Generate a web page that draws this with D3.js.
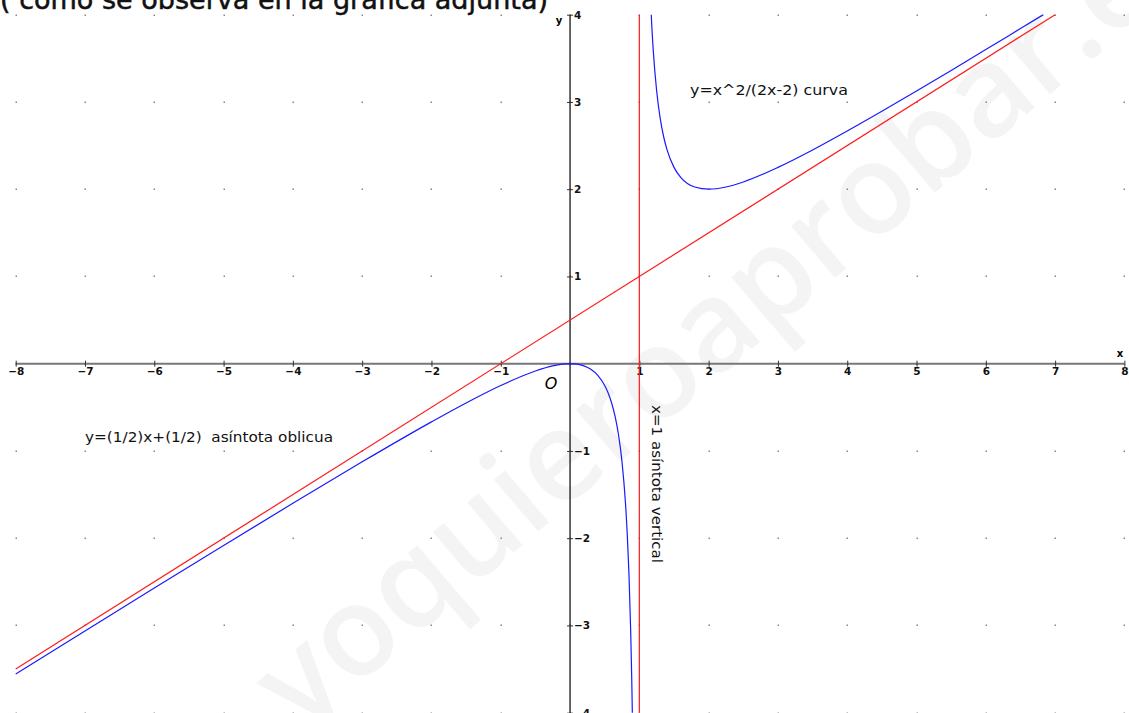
<!DOCTYPE html>
<html><head><meta charset="utf-8">
<script src="https://cdn.jsdelivr.net/npm/d3@7"></script>
<style>html,body{margin:0;padding:0;background:#fff;overflow:hidden}</style>
</head><body>
<svg id="c" width="1129" height="713"></svg>
<script>
// ---- data ----
const xTicks = [-8,-7,-6,-5,-4,-3,-2,-1,1,2,3,4,5,6,7,8];
const yTicks = [-4,-3,-2,-1,1,2,3,4];
const gridX = [-8,-7,-6,-5,-4,-3,-2,-1,0,1,2,3,4,5,6,7,8];
const gridY = [-4,-3,-2,-1,0,1,2,3,4];
// curve y = x^2/(2x-2), left branch
const leftX = [-8,-7,-6,-5,-4,-3,-2,-1.5,-1,-0.5,-0.25,0,0.1,0.2,0.3,0.4,0.5,0.55,0.6,0.65,0.7,0.75,0.8,0.825,0.85,0.875,0.89,0.899];
const leftY = [-3.556,-3.0625,-2.571,-2.083,-1.6,-1.125,-0.667,-0.45,-0.25,-0.0833,-0.025,0,-0.0056,-0.025,-0.0643,-0.133,-0.25,-0.336,-0.45,-0.604,-0.817,-1.125,-1.6,-1.945,-2.408,-3.0625,-3.6,-4];
// right branch
const rightX = [1.172,1.18,1.2,1.25,1.3,1.35,1.4,1.5,1.6,1.8,2,2.25,2.5,3,3.5,4,4.5,5,5.5,6,6.5,6.83];
const rightY = [4,3.868,3.6,3.125,2.817,2.604,2.45,2.25,2.133,2.025,2,2.025,2.083,2.25,2.45,2.667,2.893,3.125,3.361,3.6,3.841,4];
// asymptotes
const obliqueX = [-8,7];
const obliqueY = [-3.5,4];
const verticalX = [1,1];
const verticalY = [-4,4];

const svg = d3.select('#c');
const x = d3.scaleLinear().domain([-8,8]).range([15.7,1124.4]);
const y = d3.scaleLinear().domain([-4,4]).range([712.7,14.7]);
const minus = v => (v<0?'\u2212':'')+Math.abs(v);

// watermark
svg.append('text')
  .attr('transform','translate(300,735) rotate(-40.5)')
  .attr('font-family','Open Sans, DejaVu Sans, sans-serif')
  .attr('font-weight',600)
  .attr('font-size',126)
  .attr('fill','#000').attr('fill-opacity',0.045)
  .text('yoquieroaprobar.es');

// title fragment cut off at top
svg.append('text')
  .attr('x',0).attr('y',9)
  .attr('font-family','DejaVu Sans, sans-serif')
  .attr('font-size',26)
  .attr('textLength',548).attr('lengthAdjust','spacingAndGlyphs')
  .attr('fill','#111').attr('stroke','#111').attr('stroke-width',0.5)
  .text('( como se observa en la grafica adjunta)');

// grid dots
const pts = [];
gridX.forEach(gx=>gridY.forEach(gy=>pts.push([gx,gy])));
svg.append('g').selectAll('rect').data(pts).join('rect')
  .attr('x',d=>Math.round(x(d[0]))-0.5).attr('y',d=>Math.round(y(d[1]))-0.5)
  .attr('width',1.5).attr('height',1.5).attr('fill','#888');

// x axis
const xa = svg.append('g').attr('transform',`translate(0,${y(0)})`)
  .call(d3.axisBottom(x).tickValues(xTicks).tickSize(3).tickFormat(minus));
xa.select('.domain').attr('stroke','#777').attr('stroke-width',2).attr('d',`M${x(-8)},0H${x(8)}`);
xa.selectAll('.tick line').attr('stroke','#333').attr('y1',-3).attr('y2',3);
xa.selectAll('.tick text').attr('y',4).attr('font-family','DejaVu Sans, sans-serif')
  .attr('font-weight','bold').attr('font-size',10.5).attr('fill','#111');

// y axis
const ya = svg.append('g').attr('transform',`translate(${x(0)},0)`)
  .call(d3.axisRight(y).tickValues(yTicks).tickSize(3).tickFormat(minus));
ya.select('.domain').attr('stroke','#000').attr('stroke-width',1.2).attr('d',`M0,${y(4)}V${y(-4)+2}`);
ya.selectAll('.tick line').attr('stroke','#333').attr('x1',-3).attr('x2',3);
ya.selectAll('.tick text').attr('x',4).attr('font-family','DejaVu Sans, sans-serif')
  .attr('font-weight','bold').attr('font-size',10.5).attr('fill','#111');

// axis names
svg.append('text').attr('x',1120).attr('y',357).attr('text-anchor','middle')
  .attr('font-family','DejaVu Sans, sans-serif').attr('font-weight','bold').attr('font-size',10).text('x');
svg.append('text').attr('x',559).attr('y',24).attr('text-anchor','middle')
  .attr('font-family','DejaVu Sans, sans-serif').attr('font-weight','bold').attr('font-size',10).text('y');
svg.append('text').attr('x',551).attr('y',389).attr('text-anchor','middle')
  .attr('font-family','DejaVu Sans, sans-serif').attr('font-style','italic').attr('font-size',16).text('O');

// lines
const line = d3.line().x(d=>x(d[0])).y(d=>y(d[1]));
const smooth = d3.line().x(d=>x(d[0])).y(d=>y(d[1])).curve(d3.curveMonotoneX);
svg.append('path').attr('d',line(obliqueX.map((v,i)=>[v,obliqueY[i]])))
  .attr('fill','none').attr('stroke','#ff1a1a').attr('stroke-width',1.2);
svg.append('path').attr('d',line(verticalX.map((v,i)=>[v,verticalY[i]])))
  .attr('fill','none').attr('stroke','#ff1a1a').attr('stroke-width',1.2);
svg.append('path').attr('d',smooth(leftX.map((v,i)=>[v,leftY[i]])))
  .attr('fill','none').attr('stroke','#1a1aff').attr('stroke-width',1.2);
svg.append('path').attr('d',smooth(rightX.map((v,i)=>[v,rightY[i]])))
  .attr('fill','none').attr('stroke','#1a1aff').attr('stroke-width',1.2);

// annotations
const font = 'DejaVu Sans, sans-serif';
svg.append('text').attr('x',690).attr('y',95).attr('font-family',font).attr('font-size',13.5)
  .attr('textLength',158).attr('lengthAdjust','spacingAndGlyphs').attr('fill','#111')
  .text('y=x^2/(2x-2) curva');
svg.append('text').attr('x',85).attr('y',442).attr('font-family',font).attr('font-size',13.5)
  .attr('textLength',248).attr('lengthAdjust','spacingAndGlyphs').attr('fill','#111')
  .attr('xml:space','preserve').style('white-space','pre')
  .text('y=(1/2)x+(1/2)  asíntota oblicua');
svg.append('text').attr('transform','translate(652,405) rotate(90)')
  .attr('font-family',font).attr('font-size',13.5)
  .attr('textLength',158).attr('lengthAdjust','spacingAndGlyphs').attr('fill','#111')
  .text('x=1 asíntota vertical');
</script>
</body></html>
